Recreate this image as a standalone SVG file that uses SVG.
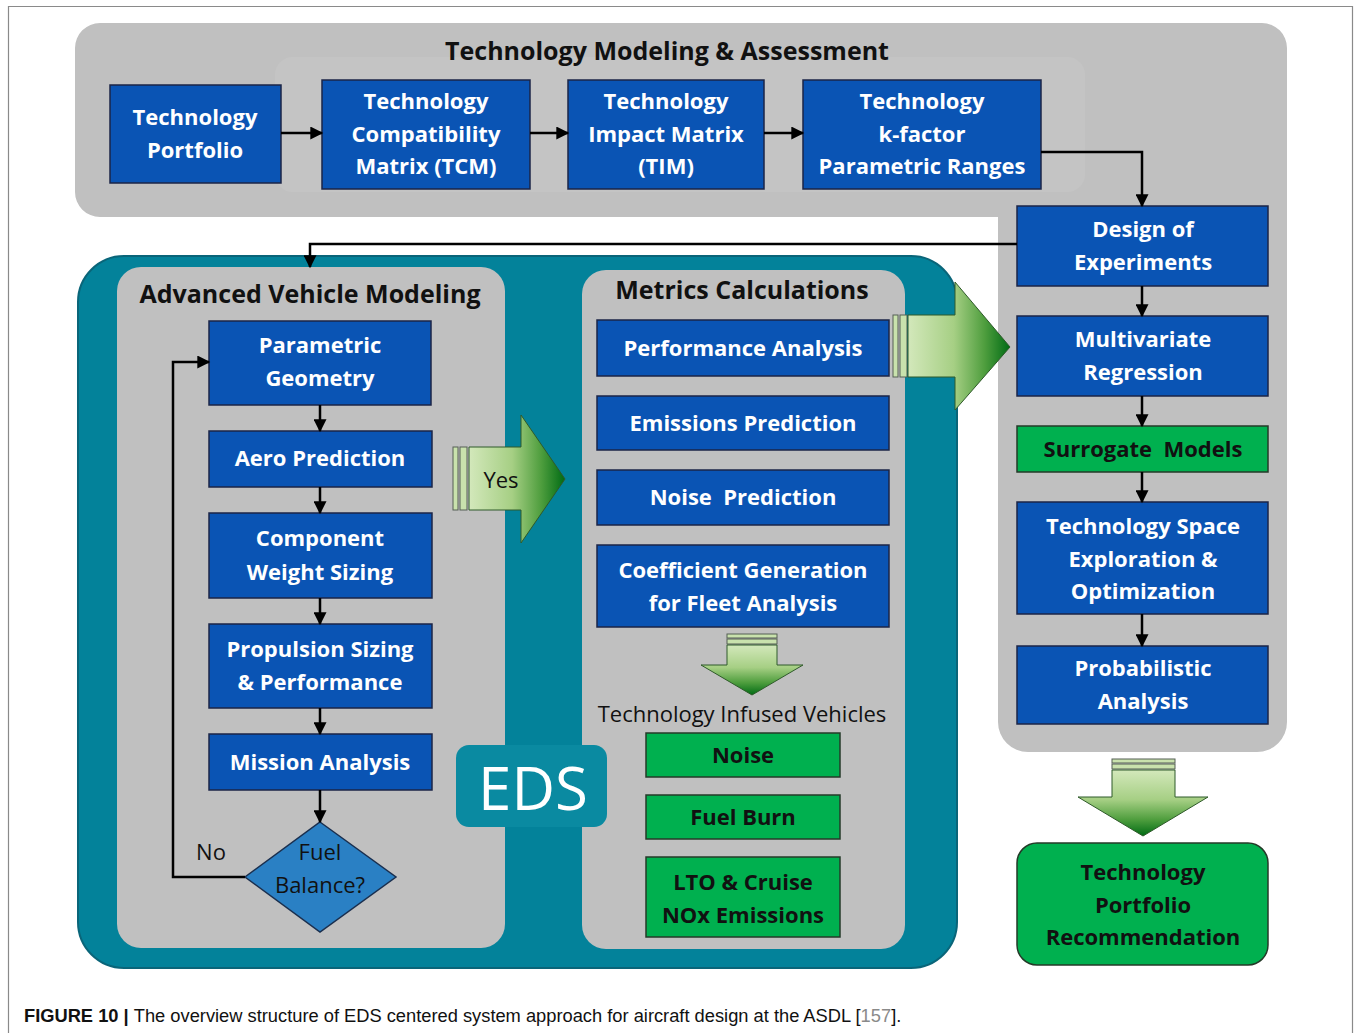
<svg xmlns="http://www.w3.org/2000/svg" width="1354" height="1033" viewBox="0 0 1354 1033">
  <style>
    text { font-family: "Open Sans", Lato, "Liberation Sans", sans-serif; text-anchor: middle; white-space: pre; }
    .blue { fill: #0a54b4; stroke: #1b2547; stroke-width: 1.5; }
    .green { fill: #00b04f; stroke: #243a28; stroke-width: 1.5; }
    .wt { fill: #ffffff; font-weight: 700; font-size: 22px; }
    .bt { fill: #111111; font-weight: 700; font-size: 22px; }
    .title { fill: #111111; font-weight: 700; font-size: 25px; }
    .plain { fill: #111111; font-size: 22px; }
    .panel { fill: #c0c0c0; }
    .wire { fill: none; stroke: #000000; stroke-width: 2.5; marker-end: url(#head); }
    .bar { fill: #c9e2ad; stroke: #555f55; stroke-width: 1; }
  </style>
  <defs>
    <marker id="head" viewBox="0 0 10 10" refX="9" refY="5" markerWidth="14" markerHeight="13" markerUnits="userSpaceOnUse" orient="auto">
      <path d="M0,0 L10,5 L0,10 Z" fill="#000000"/>
    </marker>
    <linearGradient id="gRight" x1="0" y1="0" x2="1" y2="0">
      <stop offset="0" stop-color="#d3e8bb"/>
      <stop offset="0.45" stop-color="#a6cf84"/>
      <stop offset="0.75" stop-color="#4f9e3e"/>
      <stop offset="1" stop-color="#006b14"/>
    </linearGradient>
    <linearGradient id="gDown" x1="0" y1="0" x2="0" y2="1">
      <stop offset="0" stop-color="#d3e8bb"/>
      <stop offset="0.45" stop-color="#a6cf84"/>
      <stop offset="0.75" stop-color="#4f9e3e"/>
      <stop offset="1" stop-color="#006b14"/>
    </linearGradient>
  </defs>

  <rect width="1354" height="1033" fill="#ffffff"/>
  <!-- figure frame -->
  <path d="M8.5,1033 V6.5 H1352.5 V1033" fill="none" stroke="#8a8a8a" stroke-width="1.2"/>

  <!-- Technology Modeling & Assessment panel (top band + right column) -->
  <g id="panel-tma">
    <path class="panel" d="M100,23 H1262 A25,25 0 0 1 1287,48 V722 A30,30 0 0 1 1257,752 H1028 A30,30 0 0 1 998,722 V217 H100 A25,25 0 0 1 75,192 V48 A25,25 0 0 1 100,23 Z"/>
    <rect x="275" y="57" width="810" height="135" rx="18" fill="#c4c4c4"/>
    <text class="title" x="667" y="60">Technology Modeling &amp; Assessment</text>
  </g>

  <!-- EDS teal panel -->
  <g id="panel-eds">
    <rect x="78" y="256" width="879" height="712" rx="46" fill="#03829a" stroke="#0a6579" stroke-width="2"/>
  </g>

  <g id="panel-avm">
    <rect class="panel" x="117" y="267" width="388" height="681" rx="24"/>
    <text class="title" x="310" y="303">Advanced Vehicle Modeling</text>
  </g>

  <g id="panel-metrics">
    <rect class="panel" x="582" y="270" width="323" height="679" rx="24"/>
    <text class="title" x="742" y="299">Metrics Calculations</text>
  </g>

  <g id="eds-label">
    <rect x="456" y="745" width="151" height="82" rx="13" fill="#0a8aa1"/>
    <text x="533" y="810" style="fill:#ffffff;font-size:60px">EDS</text>
  </g>

  <!-- top row -->
  <g id="tech-portfolio">
    <rect class="blue" x="110" y="85" width="171" height="98"/>
    <text class="wt" x="195" y="125">Technology</text>
    <text class="wt" x="195" y="158">Portfolio</text>
  </g>
  <g id="tcm">
    <rect class="blue" x="322" y="80" width="208" height="109"/>
    <text class="wt" x="426" y="109">Technology</text>
    <text class="wt" x="426" y="142">Compatibility</text>
    <text class="wt" x="426" y="174">Matrix (TCM)</text>
  </g>
  <g id="tim">
    <rect class="blue" x="568" y="80" width="196" height="109"/>
    <text class="wt" x="666" y="109">Technology</text>
    <text class="wt" x="666" y="142">Impact Matrix</text>
    <text class="wt" x="666" y="174">(TIM)</text>
  </g>
  <g id="k-factor">
    <rect class="blue" x="803" y="80" width="238" height="109"/>
    <text class="wt" x="922" y="109">Technology</text>
    <text class="wt" x="922" y="142">k-factor</text>
    <text class="wt" x="922" y="174">Parametric Ranges</text>
  </g>

  <!-- right column -->
  <g id="doe">
    <rect class="blue" x="1017" y="206" width="251" height="80"/>
    <text class="wt" x="1143" y="237">Design of</text>
    <text class="wt" x="1143" y="270">Experiments</text>
  </g>
  <g id="regression">
    <rect class="blue" x="1017" y="316" width="251" height="80"/>
    <text class="wt" x="1143" y="347">Multivariate</text>
    <text class="wt" x="1143" y="380">Regression</text>
  </g>
  <g id="surrogate">
    <rect class="green" x="1017" y="426" width="251" height="46"/>
    <text class="bt" x="1143" y="457">Surrogate  Models</text>
  </g>
  <g id="tech-space">
    <rect class="blue" x="1017" y="502" width="251" height="112"/>
    <text class="wt" x="1143" y="534">Technology Space</text>
    <text class="wt" x="1143" y="567">Exploration &amp;</text>
    <text class="wt" x="1143" y="599">Optimization</text>
  </g>
  <g id="probabilistic">
    <rect class="blue" x="1017" y="646" width="251" height="78"/>
    <text class="wt" x="1143" y="676">Probabilistic</text>
    <text class="wt" x="1143" y="709">Analysis</text>
  </g>
  <g id="recommendation">
    <rect class="green" x="1017" y="843" width="251" height="122" rx="20"/>
    <text class="bt" x="1143" y="880">Technology</text>
    <text class="bt" x="1143" y="913">Portfolio</text>
    <text class="bt" x="1143" y="945">Recommendation</text>
  </g>

  <!-- vehicle modeling loop -->
  <g id="geometry">
    <rect class="blue" x="209" y="321" width="222" height="84"/>
    <text class="wt" x="320" y="353">Parametric</text>
    <text class="wt" x="320" y="386">Geometry</text>
  </g>
  <g id="aero">
    <rect class="blue" x="209" y="431" width="223" height="56"/>
    <text class="wt" x="320" y="466">Aero Prediction</text>
  </g>
  <g id="weight">
    <rect class="blue" x="209" y="513" width="223" height="85"/>
    <text class="wt" x="320" y="546">Component</text>
    <text class="wt" x="320" y="580">Weight Sizing</text>
  </g>
  <g id="propulsion">
    <rect class="blue" x="209" y="624" width="223" height="84"/>
    <text class="wt" x="320" y="657">Propulsion Sizing</text>
    <text class="wt" x="320" y="690">&amp; Performance</text>
  </g>
  <g id="mission">
    <rect class="blue" x="209" y="734" width="223" height="56"/>
    <text class="wt" x="320" y="770">Mission Analysis</text>
  </g>
  <g id="fuel-balance">
    <path d="M320,822 L396,877 L320,932 L245,877 Z" fill="#2a80c4" stroke="#1a2f4f" stroke-width="1.5"/>
    <text class="plain" x="320" y="860">Fuel</text>
    <text class="plain" x="320" y="893">Balance?</text>
  </g>

  <!-- metrics -->
  <g id="performance">
    <rect class="blue" x="597" y="320" width="292" height="56"/>
    <text class="wt" x="743" y="356">Performance Analysis</text>
  </g>
  <g id="emissions">
    <rect class="blue" x="597" y="396" width="292" height="54"/>
    <text class="wt" x="743" y="431">Emissions Prediction</text>
  </g>
  <g id="noise-prediction">
    <rect class="blue" x="597" y="470" width="292" height="55"/>
    <text class="wt" x="743" y="505">Noise  Prediction</text>
  </g>
  <g id="coefficients">
    <rect class="blue" x="597" y="545" width="292" height="82"/>
    <text class="wt" x="743" y="578">Coefficient Generation</text>
    <text class="wt" x="743" y="611">for Fleet Analysis</text>
  </g>
  <g id="infused-vehicles">
    <text class="plain" x="742" y="722">Technology Infused Vehicles</text>
  </g>
  <g id="noise">
    <rect class="green" x="646" y="733" width="194" height="44"/>
    <text class="bt" x="743" y="763">Noise</text>
  </g>
  <g id="fuel-burn">
    <rect class="green" x="646" y="795" width="194" height="44"/>
    <text class="bt" x="743" y="825">Fuel Burn</text>
  </g>
  <g id="nox">
    <rect class="green" x="646" y="857" width="194" height="80"/>
    <text class="bt" x="743" y="890">LTO &amp; Cruise</text>
    <text class="bt" x="743" y="923">NOx Emissions</text>
  </g>

  <!-- block arrows -->
  <g id="arrow-yes">
    <rect class="bar" x="453" y="447" width="5" height="63"/>
    <rect class="bar" x="460" y="447" width="7" height="63"/>
    <path d="M469,447 H521 V415 L565,479 L521,543 V510 H469 Z" fill="url(#gRight)" stroke="#2f5a2a" stroke-width="1"/>
    <text class="plain" x="501" y="488">Yes</text>
  </g>
  <g id="arrow-metrics-out">
    <rect class="bar" x="893" y="315" width="5" height="62"/>
    <rect class="bar" x="900" y="315" width="7" height="62"/>
    <path d="M908,315 H955 V282 L1010,347 L955,410 V377 H908 Z" fill="url(#gRight)" stroke="#2f5a2a" stroke-width="1"/>
  </g>
  <g id="arrow-vehicles">
    <rect class="bar" x="727" y="634" width="50" height="4"/>
    <rect class="bar" x="727" y="639" width="50" height="5"/>
    <path d="M727,645 H777 V665 H803 L752,695 L701,665 H727 Z" fill="url(#gDown)" stroke="#2f5a2a" stroke-width="1"/>
  </g>
  <g id="arrow-recommend">
    <rect class="bar" x="1112" y="759" width="63" height="4"/>
    <rect class="bar" x="1112" y="764" width="63" height="5"/>
    <path d="M1112,770 H1175 V797 H1208 L1143,836 L1078,797 H1112 Z" fill="url(#gDown)" stroke="#2f5a2a" stroke-width="1"/>
  </g>

  <!-- connectors -->
  <g id="connectors">
    <path class="wire" d="M281,133 H322"/>
    <path class="wire" d="M530,133 H568"/>
    <path class="wire" d="M764,133 H803"/>
    <path class="wire" d="M1041,152 H1142 V206"/>
    <path class="wire" d="M1017,244 H310 V267"/>
    <path class="wire" d="M1142,286 V316"/>
    <path class="wire" d="M1142,396 V426"/>
    <path class="wire" d="M1142,472 V502"/>
    <path class="wire" d="M1142,614 V646"/>
    <path class="wire" d="M320,405 V431"/>
    <path class="wire" d="M320,487 V513"/>
    <path class="wire" d="M320,598 V624"/>
    <path class="wire" d="M320,708 V734"/>
    <path class="wire" d="M320,790 V822"/>
    <path class="wire" d="M245,877 H173 V362 H209"/>
    <text class="plain" x="211" y="860">No</text>
  </g>

  <!-- caption -->
  <text x="24" y="1022" style="text-anchor:start;font-family:'Liberation Sans',Arial,sans-serif;font-size:18.3px;fill:#111"><tspan font-weight="700">FIGURE 10 | </tspan>The overview structure of EDS centered system approach for aircraft design at the ASDL [<tspan fill="#8a8a8a">157</tspan>].</text>
</svg>
